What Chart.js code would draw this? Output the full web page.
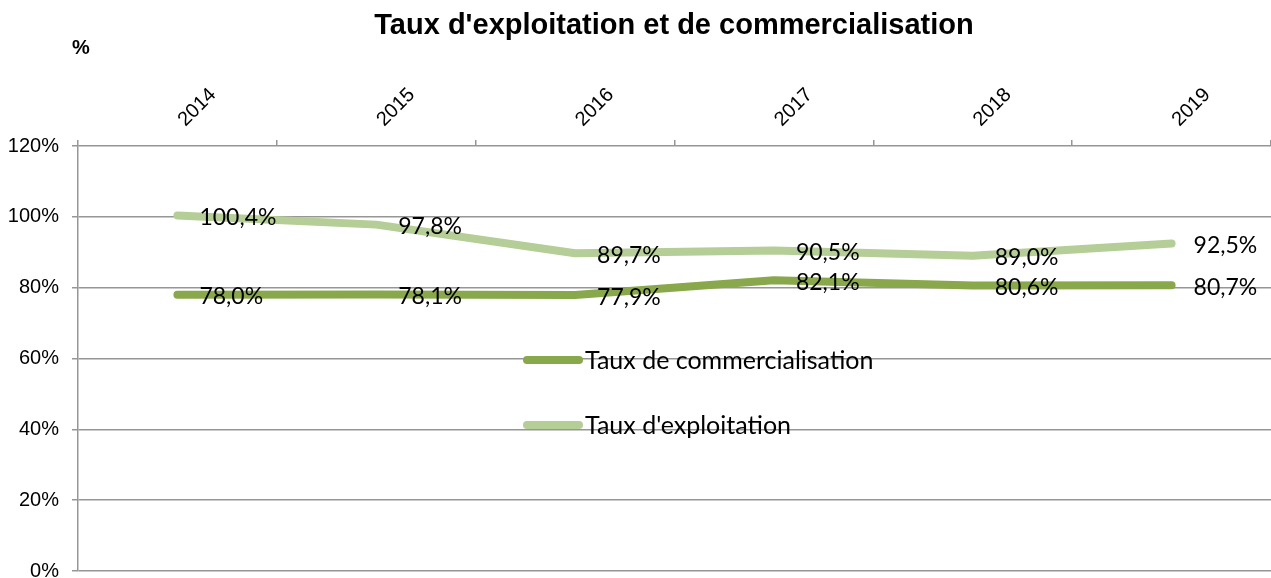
<!DOCTYPE html>
<html>
<head>
<meta charset="utf-8">
<script src="https://cdn.jsdelivr.net/npm/chart.js@4"></script>
<style>
  html, body { margin: 0; padding: 0; background: #fff; }
  #wrap { width: 1271px; height: 578px; }
</style>
</head>
<body>
<div id="wrap"><canvas id="chart-area" width="1271" height="578"></canvas></div>
<script>
var years = ['2014', '2015', '2016', '2017', '2018', '2019'];
var commercialisation = [78.0, 78.1, 77.9, 82.1, 80.6, 80.7];
var exploitation = [100.4, 97.8, 89.7, 90.5, 89.0, 92.5];
var yTicks = [0, 20, 40, 60, 80, 100, 120];

var colors = {
    dark: 'rgb(137, 167, 75)',
    light: 'rgb(181, 205, 150)',
    grid: 'rgb(150, 150, 150)'
};

var arial = '"Liberation Sans", Arial, sans-serif';
var lato = 'Lato, "Open Sans", sans-serif';

// title, "%" label, year labels, value labels and the legend drawn inside the plot
var extras = {
    id: 'extras',
    afterDatasetsDraw: function (chart) {
        var ctx = chart.ctx;
        ctx.save();
        ctx.fillStyle = '#000';
        ctx.font = 'bold 29px ' + arial;
        ctx.textAlign = 'center';
        ctx.textBaseline = 'alphabetic';
        ctx.fillText("Taux d'exploitation et de commercialisation", 674, 34);
        ctx.font = 'bold 20px ' + arial;
        ctx.textAlign = 'left';
        ctx.fillText('%', 72, 54);

        // year labels, rotated 45 degrees above the top axis
        var xs = chart.scales.x;
        ctx.font = '20px ' + arial;
        years.forEach(function (yr, i) {
            ctx.save();
            ctx.translate(xs.getPixelForValue(i) + 8, 127);
            ctx.rotate(-Math.PI / 4);
            ctx.fillText(yr, 0, 0);
            ctx.restore();
        });

        ctx.textBaseline = 'middle';
        ctx.font = '23px ' + lato;
        chart.data.datasets.forEach(function (ds, i) {
            var meta = chart.getDatasetMeta(i);
            meta.data.forEach(function (pt, j) {
                var txt = ds.data[j].toFixed(1).replace('.', ',') + '%';
                ctx.fillText(txt, pt.x + 22, pt.y + 2);
            });
        });

        // legend
        var lx = 527, ly = 360;
        ctx.font = '25px ' + lato;
        chart.data.datasets.forEach(function (ds, i) {
            var y = ly + i * 65;
            ctx.strokeStyle = ds.borderColor;
            ctx.lineWidth = 8;
            ctx.lineCap = 'round';
            ctx.beginPath();
            ctx.moveTo(lx, y);
            ctx.lineTo(lx + 52, y);
            ctx.stroke();
            ctx.fillText(ds.label, lx + 58, y + 1);
        });
        ctx.restore();
    }
};

var config = {
    type: 'line',
    data: {
        labels: years,
        datasets: [{
            label: 'Taux de commercialisation',
            data: commercialisation,
            borderColor: colors.dark,
            backgroundColor: colors.dark,
            borderWidth: 8,
            borderCapStyle: 'round',
            borderJoinStyle: 'round',
            pointRadius: 0,
            tension: 0
        }, {
            label: "Taux d'exploitation",
            data: exploitation,
            borderColor: colors.light,
            backgroundColor: colors.light,
            borderWidth: 8,
            borderCapStyle: 'round',
            borderJoinStyle: 'round',
            pointRadius: 0,
            tension: 0
        }]
    },
    options: {
        responsive: false,
        animation: false,
        layout: { padding: { top: 0, right: 0, bottom: 7, left: 0 } },
        plugins: {
            legend: { display: false },
            title: { display: false },
            tooltip: { enabled: false }
        },
        scales: {
            x: {
                position: 'top',
                offset: true,
                grid: {
                    offset: true,
                    drawOnChartArea: false,
                    drawTicks: true,
                    tickLength: 6,
                    color: colors.grid,
                    lineWidth: 1.5
                },
                border: { display: false },
                ticks: {
                    color: 'rgba(0,0,0,0)',
                    font: { family: arial, size: 12 },
                    maxRotation: 0
                },
                afterFit: function (scale) {
                    scale.height = 146;
                    scale.paddingLeft = 0;
                    scale.paddingRight = 0;
                }
            },
            y: {
                min: 0,
                max: 120,
                afterBuildTicks: function (scale) {
                    scale.ticks = yTicks.map(function (v) { return { value: v }; });
                },
                grid: {
                    color: colors.grid,
                    lineWidth: 1.5,
                    tickLength: 6
                },
                border: { color: colors.grid, width: 1.5 },
                ticks: {
                    color: '#000',
                    font: { family: arial, size: 20 },
                    padding: 13,
                    callback: function (v) { return v + '%'; }
                },
                afterFit: function (scale) {
                    scale.width = 78;
                    scale.paddingTop = 0;
                    scale.paddingBottom = 0;
                }
            }
        }
    },
    plugins: [extras]
};

window.onload = function () {
    var ctx = document.getElementById('chart-area').getContext('2d');
    window.myLine = new Chart(ctx, config);
};
</script>
</body>
</html>
